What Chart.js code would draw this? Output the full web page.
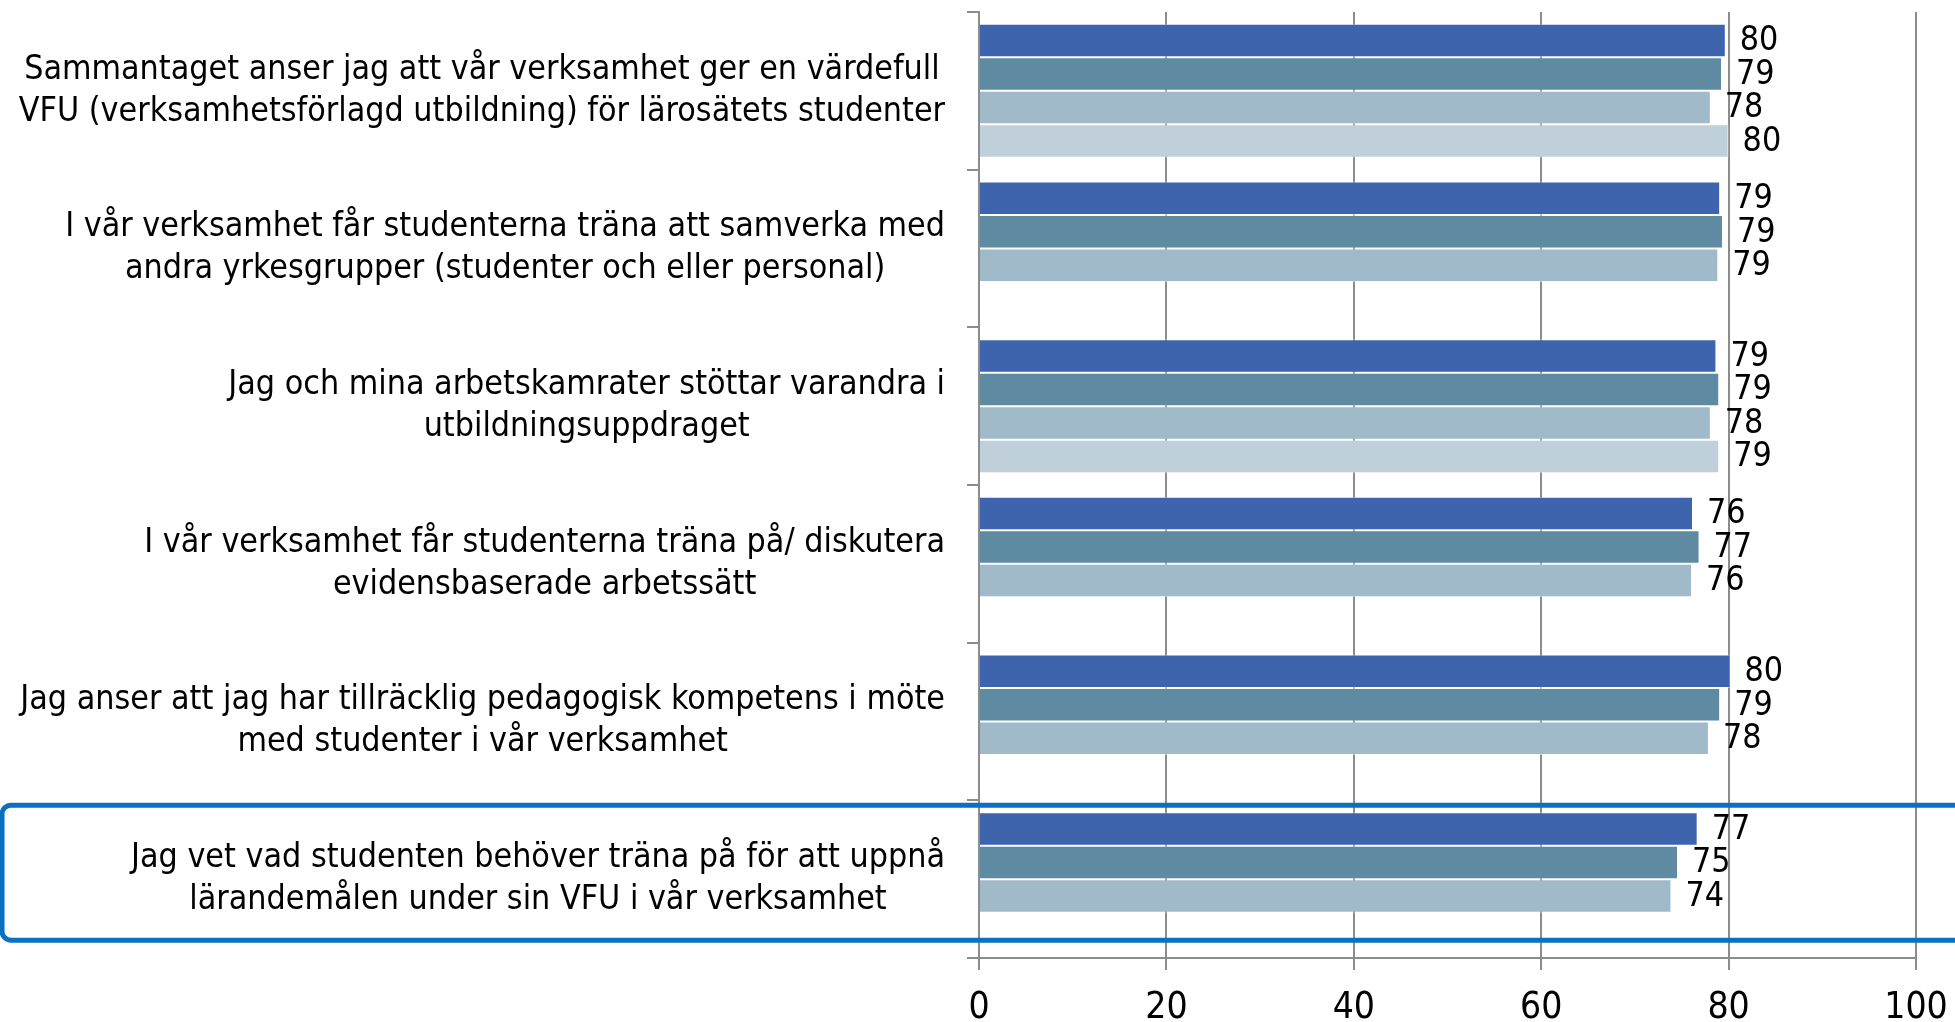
<!DOCTYPE html>
<html>
<head>
<meta charset="utf-8">
<script src="https://cdn.jsdelivr.net/npm/chart.js@4/dist/chart.umd.min.js"></script>
<style>
  html, body { margin: 0; padding: 0; background: #fff; }
  #wrap { width: 1955px; height: 1022px; }
</style>
</head>
<body>
<div id="wrap"><canvas id="chart" width="1955" height="1022"></canvas></div>
<script>
const categories = [
    ['Sammantaget anser jag att vår verksamhet ger en värdefull', 'VFU (verksamhetsförlagd utbildning) för lärosätets studenter'],
    ['I vår verksamhet får studenterna träna att samverka med', 'andra yrkesgrupper (studenter och eller personal)'],
    ['Jag och mina arbetskamrater stöttar varandra i', 'utbildningsuppdraget'],
    ['I vår verksamhet får studenterna träna på/ diskutera', 'evidensbaserade arbetssätt'],
    ['Jag anser att jag har tillräcklig pedagogisk kompetens i möte', 'med studenter i vår verksamhet'],
    ['Jag vet vad studenten behöver träna på för att uppnå', 'lärandemålen under sin VFU i vår verksamhet']
];
const series1 = [79.7, 79.1, 78.7, 76.2, 80.2, 76.7];
const series2 = [79.3, 79.4, 79.0, 76.9, 79.1, 74.6];
const series3 = [78.1, 78.9, 78.1, 76.1, 77.9, 73.9];
const series4 = [80.0, null, 79.0, null, null, null];
const xTicks = [0, 20, 40, 60, 80, 100];

const colors = ['#3d64ac', '#5f8ba2', '#a0bac9', '#bfd0db'];
const gridGrey = '#8c8c8c';
const labelFont = '33.7px "DejaVu Sans Condensed", "DejaVu Sans", sans-serif';
const highlightIndex = 5;

// value labels to the right of every bar
const valueLabels = {
    id: 'valueLabels',
    afterDatasetsDraw(chart) {
        const ctx = chart.ctx;
        ctx.save();
        ctx.font = labelFont;
        ctx.fillStyle = '#000';
        ctx.textAlign = 'left';
        ctx.textBaseline = 'middle';
        chart.data.datasets.forEach((ds, di) => {
            chart.getDatasetMeta(di).data.forEach((bar, i) => {
                const v = ds.data[i];
                if (v === null) return;
                ctx.fillText(String(Math.round(v)), bar.x + 14, bar.y + 1);
            });
        });
        ctx.restore();
    }
};

// category labels: block right aligned, lines centred inside the block
const categoryLabels = {
    id: 'categoryLabels',
    afterDraw(chart) {
        const ctx = chart.ctx;
        const y = chart.scales.y;
        const right = y.right - 34;
        const lineH = 42;
        ctx.save();
        ctx.font = labelFont;
        ctx.fillStyle = '#000';
        ctx.textAlign = 'center';
        ctx.textBaseline = 'middle';
        categories.forEach((lines, i) => {
            const yc = y.getPixelForTick(i);
            const w = Math.max(...lines.map(l => ctx.measureText(l).width));
            const cx = right - w / 2;
            lines.forEach((l, k) => {
                ctx.fillText(l, cx, yc + (k - (lines.length - 1) / 2) * lineH);
            });
        });
        ctx.restore();
    }
};

// blue rounded frame around the highlighted question
const highlightBox = {
    id: 'highlightBox',
    afterDraw(chart) {
        const ctx = chart.ctx;
        const yc = chart.scales.y.getPixelForTick(highlightIndex);
        const top = yc - 74, bottom = yc + 61;
        const left = 2, right = chart.width + 20, r = 9;
        ctx.save();
        ctx.strokeStyle = '#0a70c0';
        ctx.lineWidth = 5;
        ctx.beginPath();
        ctx.moveTo(right, top);
        ctx.lineTo(left + r, top);
        ctx.arcTo(left, top, left, top + r, r);
        ctx.lineTo(left, bottom - r);
        ctx.arcTo(left, bottom, left + r, bottom, r);
        ctx.lineTo(right, bottom);
        ctx.stroke();
        ctx.restore();
    }
};

const ctxBar = document.getElementById('chart').getContext('2d');
const barChart = new Chart(ctxBar, {
    type: 'bar',
    data: {
        labels: categories,
        datasets: [series1, series2, series3, series4].map((d, i) => ({
            data: d,
            backgroundColor: colors[i],
            borderColor: 'rgba(255,255,255,0.45)',
            borderWidth: 1,
            categoryPercentage: 0.85,
            barPercentage: 1.0
        }))
    },
    options: {
        indexAxis: 'y',
        responsive: false,
        animation: false,
        layout: { padding: { top: 12, right: 0, left: 0, bottom: 0 } },
        plugins: {
            legend: { display: false },
            tooltip: { enabled: false }
        },
        scales: {
            x: {
                min: 0,
                max: 100,
                afterBuildTicks: (scale) => {
                    scale.ticks = xTicks.map(v => ({ value: v }));
                },
                afterFit: (scale) => {
                    scale.height = 64;
                    scale.paddingLeft = 0;
                    scale.paddingRight = 39;
                },
                border: { color: gridGrey, width: 2 },
                grid: { color: gridGrey, lineWidth: 2, tickLength: 12, drawTicks: true },
                ticks: {
                    color: '#000',
                    padding: 16,
                    maxRotation: 0,
                    font: { family: '"DejaVu Sans Condensed", "DejaVu Sans", sans-serif', size: 37 }
                }
            },
            y: {
                afterFit: (scale) => {
                    scale.width = 979;
                    scale.paddingTop = 0;
                    scale.paddingBottom = 0;
                },
                border: { color: gridGrey, width: 2 },
                grid: {
                    color: gridGrey,
                    lineWidth: 2,
                    drawOnChartArea: false,
                    drawTicks: true,
                    tickLength: 12,
                    offset: true
                },
                ticks: { display: false }
            }
        }
    },
    plugins: [valueLabels, categoryLabels, highlightBox]
});
</script>
</body>
</html>
